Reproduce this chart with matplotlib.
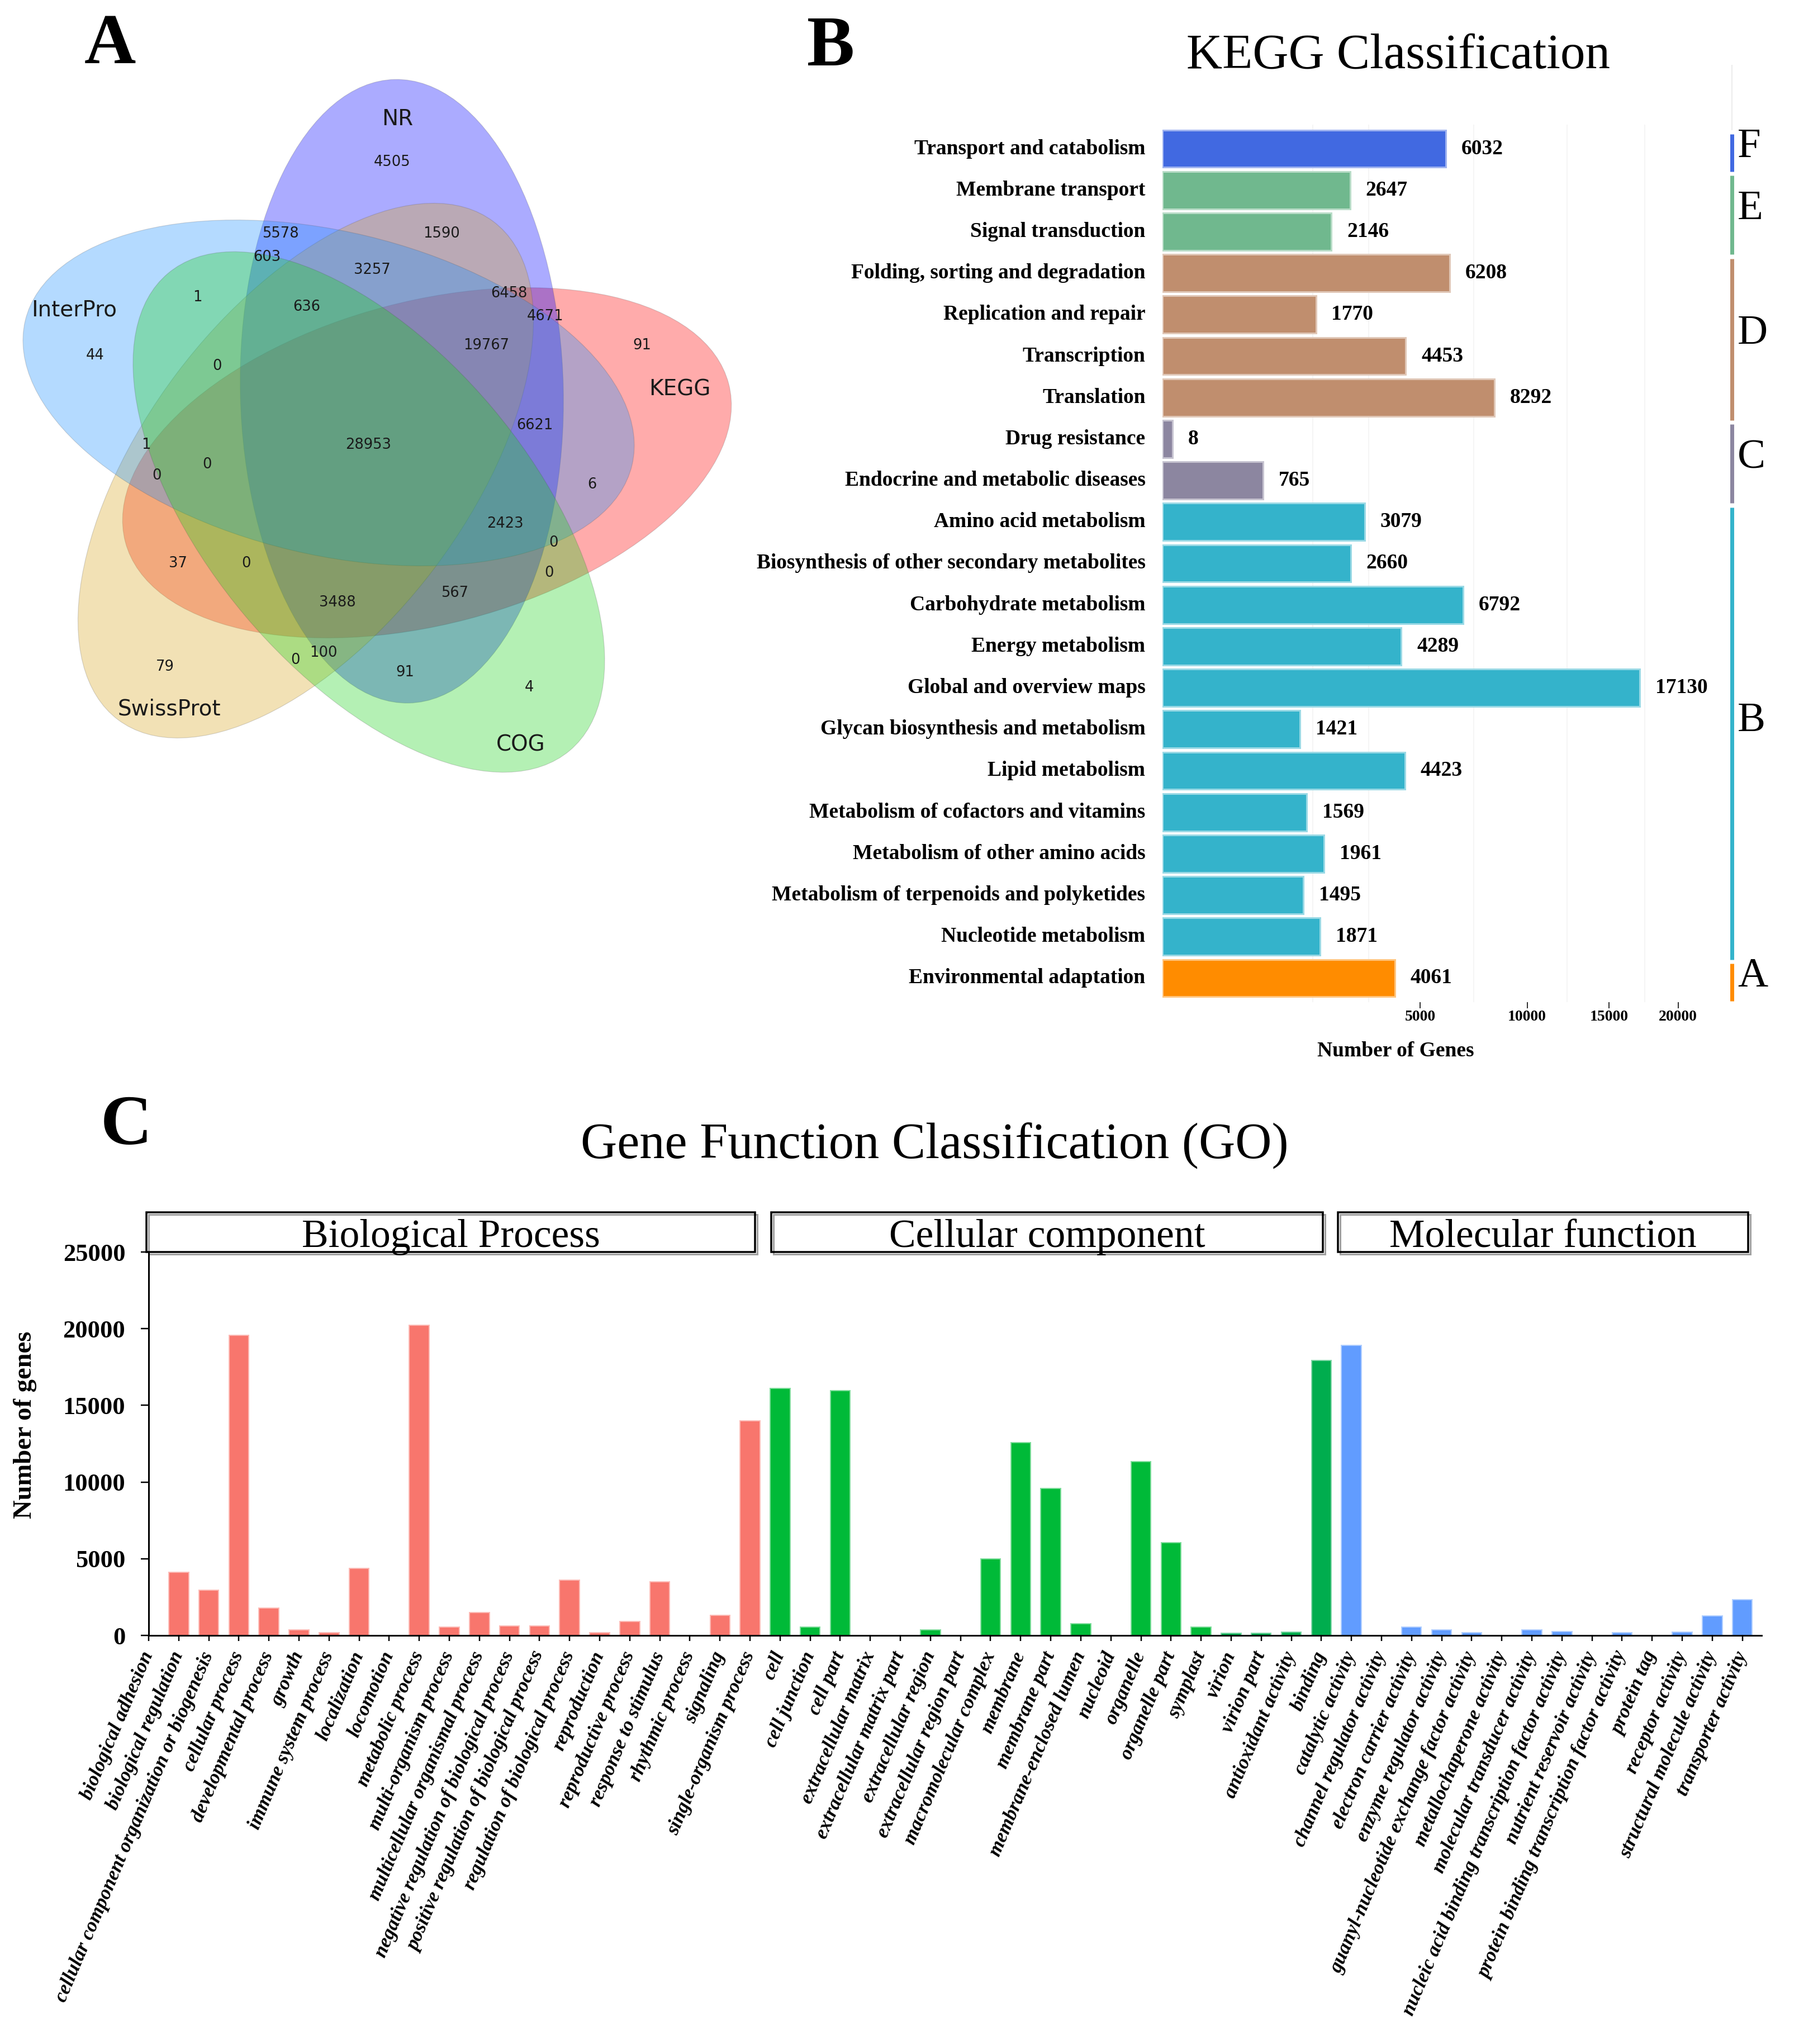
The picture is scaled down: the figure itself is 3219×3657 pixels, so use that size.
import numpy as np
import matplotlib
matplotlib.use("Agg")
import matplotlib.pyplot as plt
from matplotlib.patches import Ellipse, Rectangle
import matplotlib.transforms as mtransforms
from matplotlib.colors import to_rgb

W, H = 3219, 3657
DPI = 100
PX = 72.0 / DPI  # points per pixel
SERIF = "Liberation Serif"
SANS = "DejaVu Sans"

# ---------------- Panel A: Venn data ----------------
venn_sets = ["NR", "KEGG", "COG", "SwissProt", "InterPro"]
venn_colors = ["#0000FF", "#FF0000", "#1ED21E", "#DAA520", "#1E90FF"]
venn_counts = [4505, 5578, 1590, 603, 3257, 6458, 4671, 1, 636, 19767, 91, 44, 0,
               6621, 28953, 1, 0, 0, 6, 2423, 0, 37, 0, 0, 567, 3488, 100, 0, 79, 91, 4]

# ---------------- Panel B: KEGG data ----------------
kegg_terms = ["Transport and catabolism", "Membrane transport", "Signal transduction",
              "Folding, sorting and degradation", "Replication and repair", "Transcription",
              "Translation", "Drug resistance", "Endocrine and metabolic diseases",
              "Amino acid metabolism", "Biosynthesis of other secondary metabolites",
              "Carbohydrate metabolism", "Energy metabolism", "Global and overview maps",
              "Glycan biosynthesis and metabolism", "Lipid metabolism",
              "Metabolism of cofactors and vitamins", "Metabolism of other amino acids",
              "Metabolism of terpenoids and polyketides", "Nucleotide metabolism",
              "Environmental adaptation"]
kegg_counts = [6032, 2647, 2146, 6208, 1770, 4453, 8292, 8, 765, 3079, 2660, 6792, 4289,
               17130, 1421, 4423, 1569, 1961, 1495, 1871, 4061]
kegg_groups = ["F", "E", "E", "D", "D", "D", "D", "C", "C",
               "B", "B", "B", "B", "B", "B", "B", "B", "B", "B", "B", "A"]
kegg_group_colors = {"F": "#4169E1", "E": "#70B88E", "D": "#C08E6E",
                     "C": "#8C86A0", "B": "#34B3CB", "A": "#FF8C00"}
kegg_ticks = [5000, 10000, 15000, 20000]
kegg_grid = [1700, 3200, 7300, 12300, 17500]

# ---------------- Panel C: GO data ----------------
go_terms = ["biological adhesion", "biological regulation",
            "cellular component organization or biogenesis", "cellular process",
            "developmental process", "growth", "immune system process", "localization",
            "locomotion", "metabolic process", "multi-organism process",
            "multicellular organismal process", "negative regulation of biological process",
            "positive regulation of biological process", "regulation of biological process",
            "reproduction", "reproductive process", "response to stimulus",
            "rhythmic process", "signaling", "single-organism process",
            "cell", "cell junction", "cell part", "extracellular matrix",
            "extracellular matrix part", "extracellular region", "extracellular region part",
            "macromolecular complex", "membrane", "membrane part", "membrane-enclosed lumen",
            "nucleoid", "organelle", "organelle part", "symplast", "virion", "virion part",
            "antioxidant activity", "binding", "catalytic activity",
            "channel regulator activity", "electron carrier activity",
            "enzyme regulator activity", "guanyl-nucleotide exchange factor activity",
            "metallochaperone activity", "molecular transducer activity",
            "nucleic acid binding transcription factor activity",
            "nutrient reservoir activity", "protein binding transcription factor activity",
            "protein tag", "receptor activity", "structural molecule activity",
            "transporter activity"]
go_values = [0, 4100, 2940, 19580, 1770, 380, 180, 4380, 0, 20240, 540, 1480, 610, 610,
             3610, 200, 900, 3510, 0, 1330, 14000,
             16100, 540, 15970, 0, 0, 380, 0, 4990, 12560, 9600, 770, 0, 11340, 6040, 540,
             130, 130,
             230, 17940, 18910, 0, 540, 380, 200, 0, 380, 260, 0, 200, 0, 230, 1280, 2330]
go_groups = ["Biological Process"] * 21 + ["Cellular component"] * 17 + ["Molecular function"] * 16
go_colors = ["#F8766D"] * 21 + ["#00BA38"] * 15 + ["#00AD4E"] * 4 + ["#619CFF"] * 14
go_yticks = [0, 5000, 10000, 15000, 20000, 25000]


def lighten(c, f=0.45):
    r, g, b = to_rgb(c)
    return (r + (1 - r) * f, g + (1 - g) * f, b + (1 - b) * f)


fig = plt.figure(figsize=(W / DPI, H / DPI), dpi=DPI)
fig.patch.set_facecolor("white")

# overlay axes in pixel coordinates
ax0 = fig.add_axes([0, 0, 1, 1], zorder=0)
ax0.set_xlim(0, W)
ax0.set_ylim(H, 0)
ax0.axis("off")

# ---------------- Venn ----------------
ell_centers = [(719, 700), (764, 828), (660, 916), (547, 842), (588, 703)]
ell_angles = [88.7, -14.7, 49.9, -53.0, 13.4]
ell_w, ell_h = 1116, 578
draw_order = [1, 0, 3, 4, 2]  # KEGG, NR, SwissProt, InterPro, COG
for k in draw_order:
    r, g, b = to_rgb(venn_colors[k])
    e = Ellipse(ell_centers[k], ell_w, ell_h, angle=ell_angles[k],
                facecolor=(r, g, b, 0.33), edgecolor=(0.3, 0.3, 0.3, 0.22),
                linewidth=1.2 * PX, zorder=2)
    ax0.add_patch(e)

venn_count_pos = [(702, 290), (502, 418), (790, 418), (478, 460), (666, 483), (911, 525),
                  (976, 566), (353, 532), (549, 549), (870, 618), (1149, 618), (170, 636),
                  (389, 655), (957, 761), (659, 796), (261, 796), (370, 831), (281, 851),
                  (1059, 867), (904, 937), (990, 971), (319, 1008), (441, 1008), (983, 1025),
                  (814, 1061), (604, 1078), (579, 1168), (528, 1181), (295, 1193),
                  (725, 1203), (947, 1230)]
for v, (x, y) in zip(venn_counts, venn_count_pos):
    ax0.text(x, y, str(v), fontsize=18.5, family=SANS, color="#1a1a1a",
             ha="center", va="center", zorder=10)

venn_label_pos = [(711, 213), (1216, 696), (932, 1332), (303, 1269), (133, 555)]
for name, (x, y) in zip(venn_sets, venn_label_pos):
    ax0.text(x, y, name, fontsize=28, family=SANS, color="#1a1a1a",
             ha="center", va="center", zorder=10)

# panel letters and titles
for letter, (x, y) in zip(["A", "B", "C"], [(197, 113), (1487, 117), (226, 2047)]):
    ax0.text(x, y, letter, fontsize=92, family=SERIF, fontweight="bold",
             ha="center", va="baseline")
ax0.text(2502, 122, "KEGG Classification", fontsize=64, family=SERIF,
         ha="center", va="baseline")
ax0.text(1672, 2072, "Gene Function Classification (GO)", fontsize=65, family=SERIF,
         ha="center", va="baseline")
ax0.text(2497, 1890, "Number of Genes", fontsize=27, family=SERIF, fontweight="bold",
         ha="center", va="baseline")
ax0.plot([3099, 3099], [117, 232], color="#EBEBEB", lw=2 * PX)

# ---------------- KEGG bar chart ----------------
axk = fig.add_axes([2080 / W, 1 - 1793 / H, (3099 - 2080) / W, (1793 - 223) / H], zorder=1)
axk.patch.set_alpha(0)
axk.set_xscale("function", functions=(lambda x: np.sqrt(np.clip(x, 0, None)),
                                      lambda x: np.square(x)))
axk.set_xlim(0, ((3099 - 2080) / 6.525) ** 2)
axk.set_ylim(len(kegg_terms) - 1 + 0.58, -0.58)
for gv in kegg_grid:
    axk.axvline(gv, color="#F2F2F2", lw=1.5 * PX, zorder=0)
ypos = np.arange(len(kegg_terms))
kcols = [kegg_group_colors[g] for g in kegg_groups]
axk.barh(ypos, kegg_counts, height=0.9, color=kcols,
         edgecolor=[lighten(c, 0.5) for c in kcols], linewidth=3 * PX, zorder=2)
for i, v in enumerate(kegg_counts):
    axk.annotate(str(v), xy=(v, i), xytext=(20, 0), textcoords="offset points",
                 ha="left", va="center", fontsize=27, family=SERIF, fontweight="bold")
axk.set_yticks(ypos)
axk.set_yticklabels(kegg_terms, fontsize=27, family=SERIF, fontweight="bold", va="center")
axk.tick_params(axis="y", length=0, pad=22)
axk.set_xticks(kegg_ticks)
axk.set_xticklabels([str(t) for t in kegg_ticks], fontsize=20, family=SERIF, fontweight="bold")
axk.tick_params(axis="x", length=8, width=2 * PX, pad=2, color="#333333")
axk.xaxis.set_minor_locator(matplotlib.ticker.NullLocator())
for s in axk.spines.values():
    s.set_visible(False)

blend = mtransforms.blended_transform_factory(axk.transAxes, axk.transData)
order = []
for g in kegg_groups:
    if g not in order:
        order.append(g)
for g in order:
    idx = [i for i, gg in enumerate(kegg_groups) if gg == g]
    s, e = idx[0], idx[-1]
    axk.plot([1.0, 1.0], [s - 0.35, e + 0.55], transform=blend, color=kegg_group_colors[g],
             lw=7 * PX, solid_capstyle="butt", clip_on=False)
    off = 0.05 if g == "B" else 0.2
    axk.text(1.0098, (s + e) / 2 + off, g, transform=blend, fontsize=54, family=SERIF,
             ha="left", va="baseline", clip_on=False)

# ---------------- GO bar chart ----------------
axg = fig.add_axes([266 / W, 1 - 2926 / H, (3152 - 266) / W, (2926 - 2240) / H], zorder=1)
axg.patch.set_alpha(0)
xg = np.arange(len(go_terms))
axg.bar(xg, go_values, width=0.66, color=go_colors,
        edgecolor=[lighten(c, 0.5) for c in go_colors], linewidth=2 * PX, zorder=2)
axg.set_xlim(0, 53.64)
axg.set_ylim(0, 25000)
for side in ["top", "right"]:
    axg.spines[side].set_visible(False)
for side in ["left", "bottom"]:
    axg.spines[side].set_linewidth(3 * PX)
axg.set_xticks(xg)
axg.set_xticklabels(go_terms, rotation=67, ha="right", va="center", rotation_mode="anchor",
                    fontsize=25.5, family=SERIF, fontweight="bold", style="italic")
axg.tick_params(axis="x", length=7, width=2.5 * PX, pad=15)
axg.set_yticks(go_yticks)
axg.set_yticklabels([str(t) for t in go_yticks], fontsize=32, family=SERIF, fontweight="bold")
axg.tick_params(axis="y", length=10, width=2.5 * PX, pad=20)
ax0.text(45, 2549, "Number of genes", rotation=90, fontsize=33.5, family=SERIF,
         fontweight="bold", ha="center", va="center")

# group header boxes
box_spans = {"Biological Process": (262, 1351), "Cellular component": (1380, 2367),
             "Molecular function": (2394, 3128)}
for name, (x0, x1) in box_spans.items():
    ax0.add_patch(Rectangle((x0 + 4, 2169 + 4), x1 - x0, 71, fill=False,
                            edgecolor="#A0A0A0", lw=3 * PX, zorder=3))
    ax0.add_patch(Rectangle((x0, 2169), x1 - x0, 71, fill=False,
                            edgecolor="black", lw=3.5 * PX, zorder=4))
    ax0.text((x0 + x1) / 2, 2231, name, fontsize=51.5, family=SERIF,
             ha="center", va="baseline", zorder=5)

fig.savefig("out.png", dpi=DPI, facecolor="white")
